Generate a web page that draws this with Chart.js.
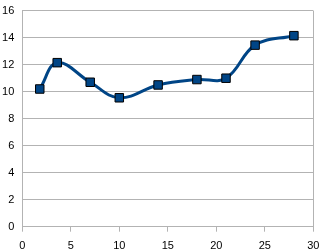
<!DOCTYPE html>
<html>
<head>
<meta charset="utf-8">
<script src="https://cdn.jsdelivr.net/npm/chart.js@4/dist/chart.umd.min.js"></script>
<style>
  html, body { margin: 0; padding: 0; background: #fff; }
  #wrap { width: 324px; height: 251px; }
</style>
</head>
<body>
<div id="wrap"><canvas id="chart"></canvas></div>
<script>
// values
const xValues = [1.8, 3.6, 7, 10, 14, 18, 21, 24, 28]
const yValues = [10.2, 12.15, 10.7, 9.55, 10.5, 10.9, 11.0, 13.45, 14.15]
const xTicks = [0, 5, 10, 15, 20, 25, 30]
const yTicks = [0, 2, 4, 6, 8, 10, 12, 14, 16]

const lineColor = '#004586'
const gridColor = '#b3b3b3'

const points = xValues.map((x, i) => ({ x, y: yValues[i] }))

// keep the plot box where the reference has it; labels may overhang
function noEdgePadding(axis) {
  axis.paddingTop = 0
  axis.paddingBottom = 0
  axis.paddingLeft = 0
  axis.paddingRight = 0
}

new Chart(document.getElementById('chart'), {
  type: 'scatter',
  data: {
    datasets: [{
      data: points,
      showLine: true,
      tension: 0.4,
      borderColor: lineColor,
      borderWidth: 3,
      pointStyle: 'rect',
      pointRadius: 6,
      pointHoverRadius: 6,
      pointBackgroundColor: lineColor,
      pointBorderColor: '#000',
      pointBorderWidth: 1
    }]
  },
  options: {
    responsive: true,
    maintainAspectRatio: false,
    animation: false,
    events: [],
    layout: { autoPadding: false, padding: { top: 10.7, right: 10.7, left: 0, bottom: 0 } },
    plugins: { legend: { display: false }, tooltip: { enabled: false } },
    scales: {
      x: {
        type: 'linear',
        min: xTicks[0],
        max: xTicks[xTicks.length - 1],
        afterBuildTicks: axis => { axis.ticks = xTicks.map(v => ({ value: v })) },
        afterFit: axis => { axis.height = 24.3; noEdgePadding(axis) },
        border: { display: true, color: gridColor, width: 1 },
        grid: {
          color: c => (c.tick && c.tick.value === 30 ? gridColor : 'rgba(0,0,0,0)'),
          tickColor: gridColor,
          tickLength: 5,
          lineWidth: 1
        },
        ticks: {
          color: '#000',
          padding: 8,
          maxRotation: 0,
          font: { family: 'Liberation Sans', size: 11 }
        }
      },
      y: {
        type: 'linear',
        min: yTicks[0],
        max: yTicks[yTicks.length - 1],
        afterBuildTicks: axis => { axis.ticks = yTicks.map(v => ({ value: v })) },
        afterFit: axis => { axis.width = 22.3; noEdgePadding(axis) },
        border: { display: true, color: gridColor, width: 1 },
        grid: { color: gridColor, lineWidth: 1, drawTicks: false },
        ticks: {
          color: '#000',
          padding: 8,
          font: { family: 'Liberation Sans', size: 11 }
        }
      }
    }
  }
})
</script>
</body>
</html>
